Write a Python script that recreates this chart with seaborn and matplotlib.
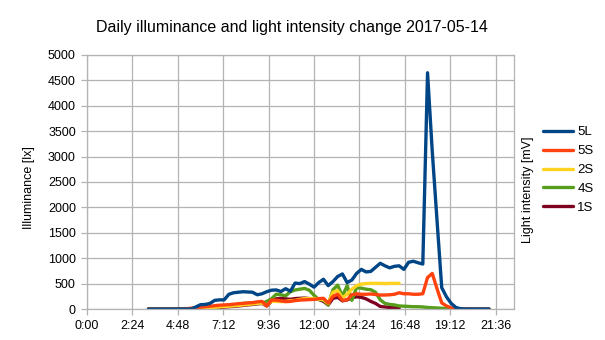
import numpy as np
import pandas as pd
import matplotlib
matplotlib.use("Agg")
import matplotlib.pyplot as plt
import seaborn as sns

# Sampling times (hours of the day, every 15 minutes)
hours = np.arange(3.25, 21.26, 0.25)

# Illuminance sensor 5L [lx]
lux_5L = [0, 0, 0, 0, 0, 0, 0, 0, 0, 0,
          40, 85, 90, 110, 170, 180, 180, 290, 320, 330,
          340, 335, 330, 280, 300, 340, 370, 375, 345, 400,
          350, 510, 500, 540, 490, 430, 520, 585, 460, 540,
          640, 690, 520, 570, 700, 780, 730, 740, 820, 900,
          850, 810, 840, 850, 780, 920, 940, 910, 885, 4650,
          3100, 1750, 420, 240, 110, 30, 5,
          0, 0, 0, 0, 0, 0]

# Light intensity sensors [mV]
mv_5S = [0, 0, 0, 0, 0, 0, 0, 0,
         5, 15, 25, 35, 45, 55, 65, 75, 80, 85,
         95, 105, 110, 120, 125, 140, 150, 60, 175, 175,
         160, 145, 150, 165, 175, 180, 185, 190, 205, 210,
         115, 250, 290, 170, 180, 280, 300, 290, 290, 295,
         285, 275, 275, 280, 290, 320, 300, 300, 290, 290,
         300, 620, 700, 400, 120, 60, 20, 5,
         0, 0, 0, 0, 0, 0, 0]

mv_2S = [0, 0, 0, 0, 0, 0, 0, 0, 0, 0,
         5, 10, 18, 25, 32, 40, 48, 55, 62, 70,
         80, 90, 100, 110, 120, 70, 150, 150, 145, 150,
         165, 170, 190, 205, 205, 205, 195, 185, 110, 330,
         360, 220, 290, 390, 460, 490, 500, 505, 505, 505,
         500, 505, 505, 505] + [np.nan] * 19

mv_4S = [0, 0, 0, 0, 0, 0, 0, 0, 0, 0,
         5, 15, 22, 30, 40, 50, 58, 65, 78, 90,
         110, 115, 120, 130, 110, 150, 200, 290, 280, 260,
         340, 375, 390, 405, 370, 270, 185, 175, 80, 380,
         470, 250, 460, 170, 420, 410, 390, 380, 330, 180,
         110, 90, 80, 60, 55, 50, 45, 45, 40, 30,
         25, 20, 15, 5,
         0, 0, 0, 0, 0, 0, 0, 0, 0]

mv_1S = [0, 0, 0, 0, 0, 0, 0, 0, 0, 0, 0,
         5, 10, 15, 22, 30, 38, 45, 52, 60,
         70, 80, 90, 100, 110, 60, 150, 200, 210, 200,
         190, 205, 210, 215, 205, 200, 190, 150, 80, 210,
         230, 160, 180, 220, 240, 230, 200, 150, 110, 50,
         40, 30, 25, 20] + [np.nan] * 19

series_names = ["5L", "5S", "2S", "4S", "1S"]
series_values = [lux_5L, mv_5S, mv_2S, mv_4S, mv_1S]
series_colors = ["#004586", "#ff420e", "#ffd320", "#579d1c", "#7e0021"]

tick_hours = [0, 2.4, 4.8, 7.2, 9.6, 12.0, 14.4, 16.8, 19.2, 21.6]
tick_labels = ["0:00", "2:24", "4:48", "7:12", "9:36", "12:00",
               "14:24", "16:48", "19:12", "21:36"]
y_ticks = list(range(0, 5001, 500))

df = pd.DataFrame({
    "time": np.tile(hours, len(series_names)),
    "value": np.concatenate([np.asarray(v, dtype=float) for v in series_values]),
    "series": np.repeat(series_names, len(hours)),
})

sns.set_theme(style="white")
plt.rcParams["font.family"] = ["Liberation Sans", "DejaVu Sans"]
plt.rcParams["text.color"] = "black"

W, H = 605, 340
fig = plt.figure(figsize=(W / 100, H / 100), dpi=100)
ax = fig.add_axes([87 / W, 1 - 309 / H, 427 / W, 254 / H])

# draw the last series first so that 5L ends up on top
handles = {}
for name, color in reversed(list(zip(series_names, series_colors))):
    sub = df[df["series"] == name]
    sns.lineplot(data=sub, x="time", y="value", color=color, linewidth=2.4,
                 ax=ax, label=name, estimator=None, sort=False)
    handles[name] = ax.get_lines()[-1]

ax.set_xlim(0, 22.57)
ax.set_ylim(0, 5000)
ax.set_xticks(tick_hours)
ax.set_xticklabels(tick_labels)
ax.set_yticks(y_ticks)
ax.set_xlabel("")
ax.set_ylabel("")
ax.grid(True, color="#b3b3b3", linewidth=0.9)
ax.set_axisbelow(True)
for sp in ax.spines.values():
    sp.set_color("#b3b3b3")
    sp.set_linewidth(0.9)
ax.tick_params(axis="both", which="major", bottom=True, left=True,
               length=4, width=0.9, color="#b3b3b3", labelsize=9,
               labelcolor="black", pad=4, direction="out")

ax.legend([handles[n] for n in series_names], series_names,
          loc="center left", bbox_to_anchor=(543 / W, 1 - 170 / H),
          bbox_transform=fig.transFigure, frameon=False, fontsize=9.5,
          handlelength=2.3, handletextpad=0.3, labelspacing=0.5,
          borderaxespad=0, borderpad=0)

fig.text(292 / W, 1 - 32 / H,
         "Daily illuminance and light intensity change 2017-05-14",
         ha="center", va="baseline", fontsize=11.5, color="black")
fig.text(29 / W, 1 - 188 / H, "Illuminance [lx]", rotation=90,
         ha="center", va="center", fontsize=9, color="black")
fig.text(528 / W, 1 - 190 / H, "Light intensity [mV]", rotation=90,
         ha="center", va="center", fontsize=9, color="black")

fig.savefig("out.png", dpi=100)
